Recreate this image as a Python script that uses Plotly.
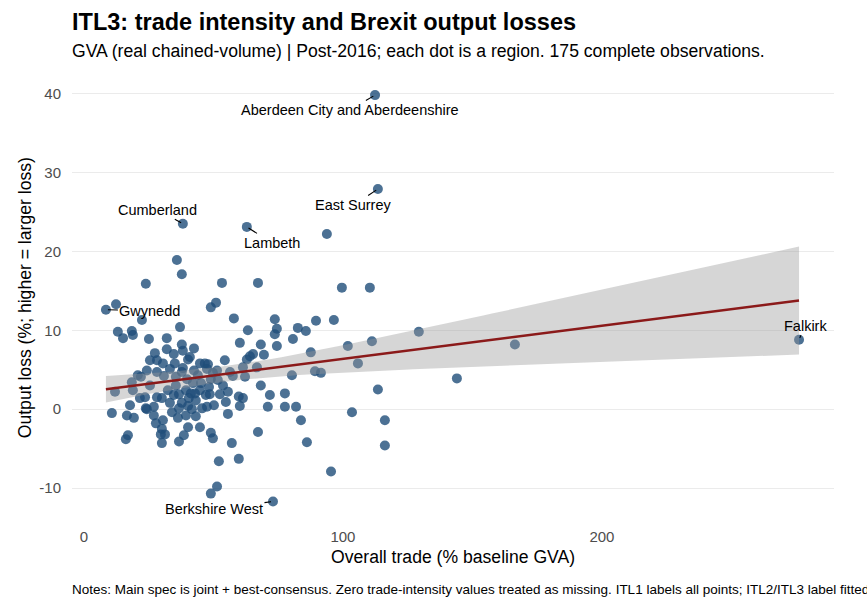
import numpy as np
import plotly.graph_objects as go

# Overall trade (% baseline GVA) and output loss (%) per ITL3 region
trade = [23.9, 8.5, 12.4, 22.4, 13.1, 15.1, 18.5, 18.9, 25.1, 32.0, 37.1, 35.9, 37.8, 38.2, 49.0, 51.0,
         57.9, 53.3, 67.2, 62.9, 93.8, 99.6, 110.4, 112.4, 113.5, 63.3, 73.7, 89.6, 96.5, 74.5, 73.7,
         82.6, 85.7, 129.3, 60.2, 68.3, 74.5, 80.7, 101.9, 111.2, 166.4, 32.0, 27.4, 28.2, 30.5, 34.7,
         37.8, 38.2, 40.2, 42.5, 35.1, 38.2, 44.8, 46.7, 47.9, 64.1, 65.3, 69.5, 87.6, 105.8, 62.9,
         61.4, 66.8, 24.3, 20.8, 22.0, 18.5, 18.9, 12.0, 28.2, 30.9, 33.2, 35.5, 37.8, 42.5, 44.0,
         47.5, 49.8, 51.7, 53.7, 62.2, 68.3, 56.4, 80.3, 89.2, 91.5, 144.0, 113.5, 77.6, 23.6, 28.2,
         30.1, 23.9, 27.0, 33.2, 34.7, 37.8, 36.7, 39.4, 41.3, 40.5, 42.9, 43.2, 40.2, 41.7, 39.4,
         43.2, 47.1, 47.5, 50.2, 52.5, 55.6, 59.8, 61.4, 60.2, 71.0, 77.6, 81.9, 103.5, 10.8, 16.6,
         19.3, 17.8, 24.3, 27.0, 27.8, 30.5, 36.3, 30.1, 29.7, 31.3, 30.1, 17.0, 16.2, 36.7, 38.6,
         40.2, 44.8, 49.0, 49.8, 57.1, 67.2, 83.8, 86.1, 116.2, 116.2, 95.4, 52.1, 59.8, 51.4, 49.0,
         73.0, 276.1, 49.0, 48.3, 44.8, 48.6, 39.8, 51.4, 40.9, 45.2, 55.6, 35.5, 32.4, 25.5, 54.8,
         45.6, 34.0, 21.6, 57.5, 42.1, 36.7, 25.5, 54.4, 71.8]
loss = [15.9, 12.6, 13.3, 11.3, 9.8, 9.0, 9.9, 9.4, 8.9, 9.0, 10.4, 18.9, 17.1, 23.5, 12.9, 13.5,
        11.5, 16.0, 16.0, 23.1, 22.2, 15.4, 15.4, 39.8, 27.9, 10.0, 11.4, 11.2, 11.3, 10.2, 9.5,
        10.3, 9.9, 9.8, 8.4, 8.2, 8.0, 8.9, 8.0, 8.6, 8.2, 7.6, 7.1, 6.2, 5.8, 7.0,
        8.2, 7.4, 6.3, 7.7, 5.8, 5.2, 5.8, 5.8, 5.7, 6.7, 7.0, 6.9, 7.2, 5.8, 6.3,
        5.3, 5.3, 4.9, 4.3, 4.1, 3.4, 2.4, 2.2, 4.7, 4.2, 5.1, 4.1, 4.7, 4.9, 4.3,
        5.1, 4.6, 3.7, 3.0, 4.1, 3.0, 4.7, 4.3, 4.8, 4.6, 3.9, 2.5, 2.0, 1.5, 1.5,
        1.4, 0.1, 0.3, 0.8, 1.8, 0.8, 1.9, 2.4, 2.0, 1.4, 2.0, 1.1, 0.4, 0.0, -0.8,
        -0.9, 1.8, 0.3, 0.5, 1.9, -0.6, 1.6, 1.4, 0.4, 0.3, 0.3, 0.3, -0.4, -0.5, -0.8,
        -1.1, 0.5, 0.0, -0.8, -1.8, -1.4, -1.1, -2.5, -3.2, -3.2, -4.3, -3.3, -3.8, -4.1, -3.3,
        -2.3, -2.3, -3.0, -3.7, -4.3, -2.9, -1.4, -4.2, -1.4, -4.6, -7.9, -6.6, -6.3, -9.8, -10.7,
        -11.7, 8.8, 3.8, 2.8, 2.4, 1.9, 3.8, 4.9, 6.6, 3.3, 2.2, 3.0, 2.4, 3.0, 0.9,
        0.1, -0.4, 1.4, 4.2, 3.3, 0.1, 6.2, 6.2, 1.8]

# Axis ticks
x_ticks = [0, 100, 200]
y_ticks = [-10, 0, 10, 20, 30, 40]
y_tick_labels = ["-10", "0", "10", "20", "30", "40"]

# Labelled regions: name, trade, loss, label offset (px) as placed by the repel layout
label_names = ["Aberdeen City and Aberdeenshire", "East Surrey", "Cumberland", "Lambeth",
               "Gwynedd", "Berkshire West", "Falkirk"]
label_trade = [112.4, 113.5, 38.2, 62.9, 8.5, 73.0, 276.1]
label_loss = [39.8, 27.9, 23.5, 23.1, 12.6, -11.7, 8.8]
label_dx = [-25, -24, -25, 25, 44, -59, 6]
label_dy = [15, 16, -14, 16, 1, 8, -14]

x = np.array(trade)
y = np.array(loss)

# OLS fit with 95% confidence band (as geom_smooth(method="lm"))
n = len(x)
xm = x.mean()
sxx = ((x - xm) ** 2).sum()
b1 = ((x - xm) * (y - y.mean())).sum() / sxx
b0 = y.mean() - b1 * xm
resid = y - (b0 + b1 * x)
s = np.sqrt((resid ** 2).sum() / (n - 2))
tq = 1.974
xs = np.linspace(x.min(), x.max(), 80)
fit = b0 + b1 * xs
se = s * np.sqrt(1 / n + (xs - xm) ** 2 / sxx)
lo = fit - tq * se
hi = fit + tq * se

FONT = "Liberation Sans, Arial, Helvetica, sans-serif"

fig = go.Figure()
fig.add_trace(go.Scatter(x=x, y=y, mode="markers",
                         marker=dict(size=10, color="rgba(31,78,121,0.8)", line=dict(width=0)),
                         hoverinfo="x+y", showlegend=False))
fig.add_trace(go.Scatter(x=np.concatenate([xs, xs[::-1]]), y=np.concatenate([hi, lo[::-1]]),
                         fill="toself", fillcolor="rgba(153,153,153,0.4)", line=dict(width=0),
                         mode="lines", hoverinfo="skip", showlegend=False))
fig.add_trace(go.Scatter(x=xs, y=fit, mode="lines", line=dict(color="#8B1A1A", width=2.6),
                         hoverinfo="skip", showlegend=False))

annotations = []
for nm, lx, ly, dx, dy in zip(label_names, label_trade, label_loss, label_dx, label_dy):
    annotations.append(dict(x=lx, y=ly, xref="x", yref="y", text=nm, showarrow=True,
                            ax=dx, ay=dy, arrowhead=0, arrowwidth=1.1, arrowcolor="black",
                            standoff=2, font=dict(family=FONT, size=14.5, color="black")))

annotations += [
    dict(text="<b>ITL3: trade intensity and Brexit output losses</b>", xref="paper", yref="paper",
         x=-0.003, y=1.114, xanchor="left", yanchor="middle", showarrow=False,
         font=dict(family=FONT, size=23.5, color="black")),
    dict(text="GVA (real chained-volume) | Post-2016; each dot is a region. 175 complete observations.",
         xref="paper", yref="paper", x=-0.003, y=1.049, xanchor="left", yanchor="middle",
         showarrow=False, font=dict(family=FONT, size=17.6, color="black")),
    dict(text="Overall trade (% baseline GVA)", xref="paper", yref="paper", x=0.5, y=-0.078,
         xanchor="center", yanchor="middle", showarrow=False,
         font=dict(family=FONT, size=17.6, color="black")),
    dict(text="Output loss (%; higher = larger loss)", xref="paper", yref="paper", x=-0.062, y=0.5,
         xanchor="center", yanchor="middle", textangle=-90, showarrow=False,
         font=dict(family=FONT, size=17.6, color="black")),
    dict(text="Notes: Main spec is joint + best-consensus. Zero trade-intensity values treated as missing. "
              "ITL1 labels all points; ITL2/ITL3 label fitted outliers.",
         xref="paper", yref="paper", x=-0.003, y=-0.151, xanchor="left", yanchor="middle",
         showarrow=False, font=dict(family=FONT, size=13.5, color="black")),
]

fig.update_layout(
    width=867, height=598,
    margin=dict(l=72, r=33, t=73, b=76),
    paper_bgcolor="white", plot_bgcolor="white",
    font=dict(family=FONT),
    annotations=annotations,
    showlegend=False,
)
fig.update_xaxes(range=[-4.6, 289.6], tickvals=x_ticks, showgrid=False, zeroline=False,
                 showline=False, ticks="", ticklabelstandoff=4,
                 tickfont=dict(family=FONT, size=15, color="#4D4D4D"))
fig.update_yaxes(range=[-14.3, 42.6], tickvals=y_ticks, ticktext=y_tick_labels, showgrid=True,
                 gridcolor="#EBEBEB", gridwidth=1.3, zeroline=False, showline=False, ticks="",
                 ticklabelstandoff=10, tickfont=dict(family=FONT, size=15, color="#4D4D4D"))

fig.write_html("out.html")
